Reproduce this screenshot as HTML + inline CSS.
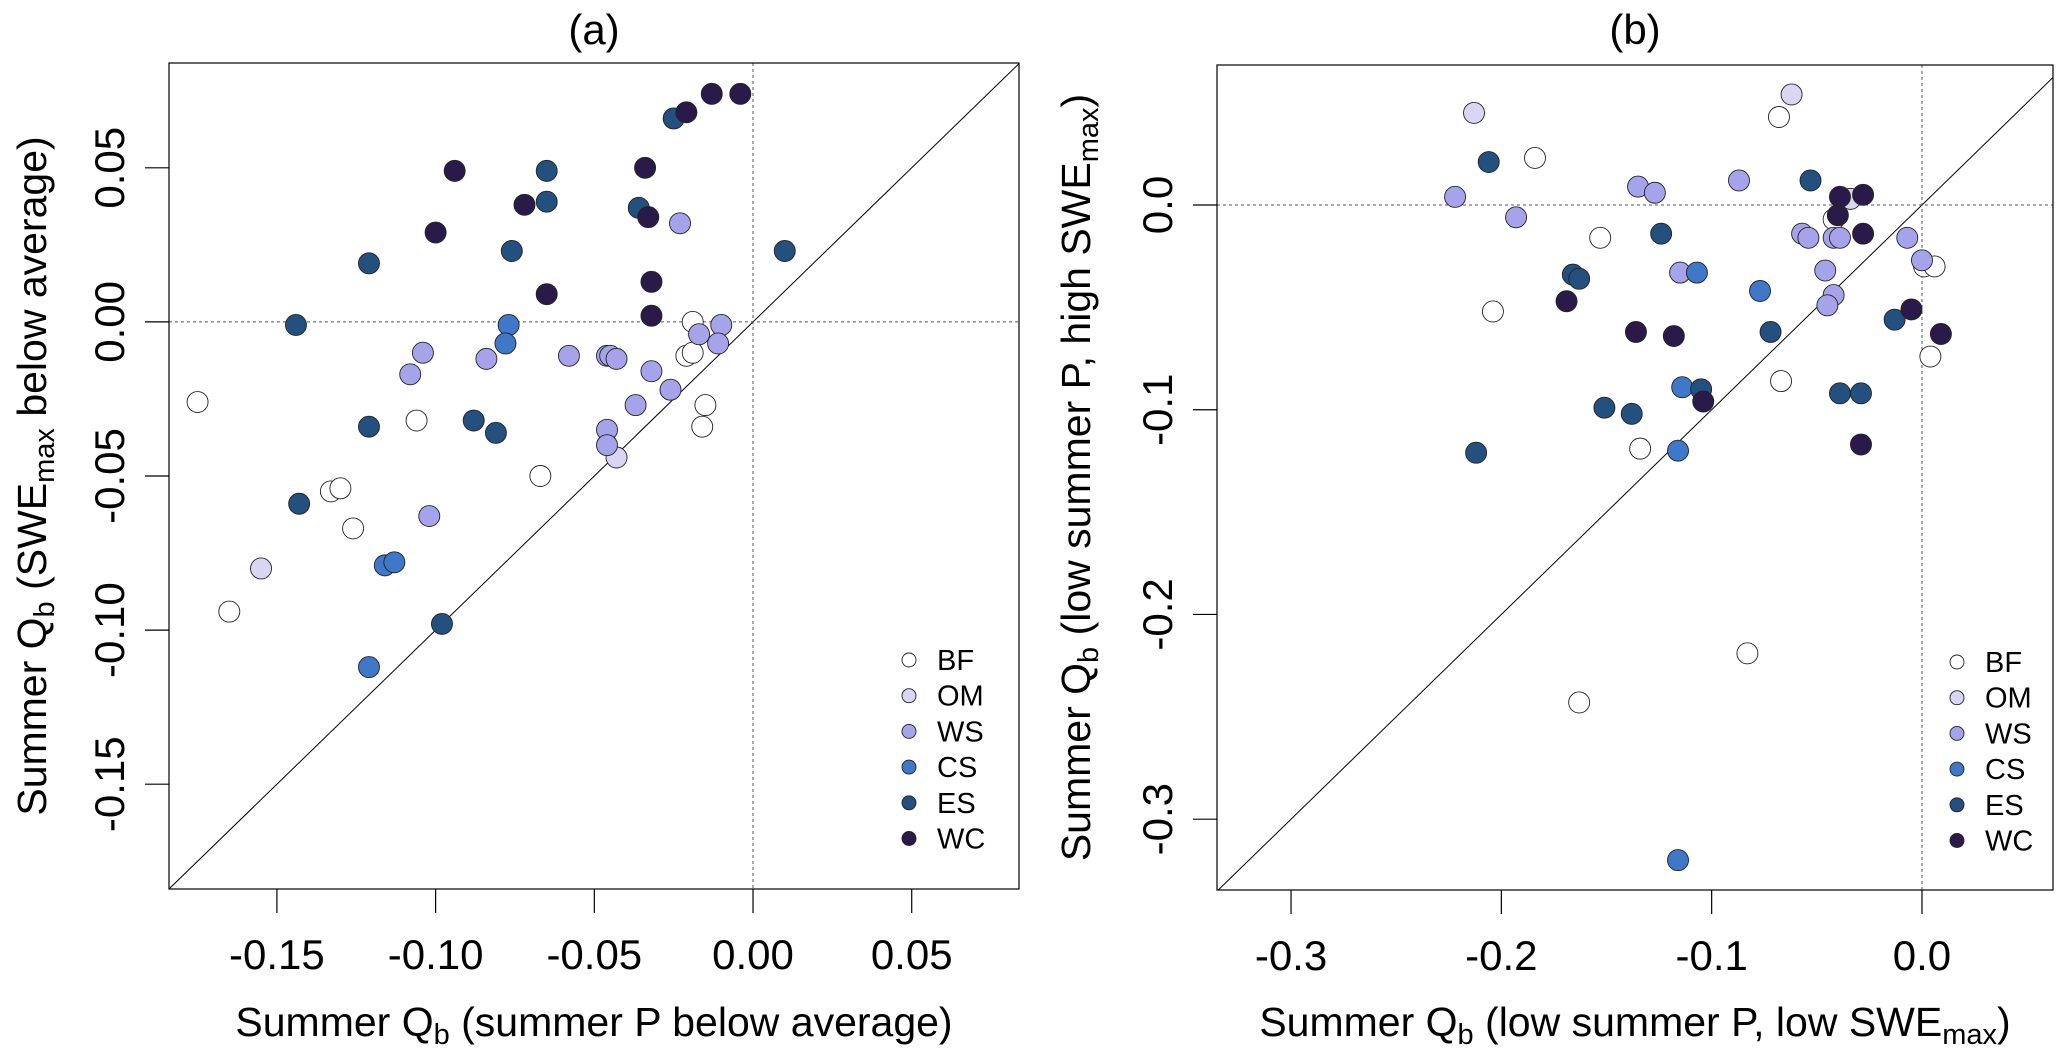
<!DOCTYPE html>
<html><head><meta charset="utf-8"><style>
html,body{margin:0;padding:0;background:#fff}
svg{display:block;font-family:"Liberation Sans",Arial,sans-serif}
</style></head><body>
<svg id="fig" width="2067" height="1064" viewBox="0 0 2067 1064" xmlns="http://www.w3.org/2000/svg"></svg>
<script>
const groups = ["BF","OM","WS","CS","ES","WC"];
const groupColors = ["#ffffff","#d9d6f3","#a7a3ea","#3f77c9","#23507f","#2a1a4a"];
// Panel (a) data: [x, y] per group
const aBF = [[-0.175,-0.026],[-0.165,-0.094],[-0.133,-0.055],[-0.130,-0.054],[-0.126,-0.067],[-0.106,-0.032],[-0.067,-0.050],[-0.019,0.000],[-0.021,-0.011],[-0.019,-0.010],[-0.015,-0.027],[-0.016,-0.034]];
const aOM = [[-0.155,-0.080],[-0.043,-0.044]];
const aWS = [[-0.108,-0.017],[-0.104,-0.010],[-0.084,-0.012],[-0.058,-0.011],[-0.046,-0.011],[-0.045,-0.011],[-0.043,-0.012],[-0.102,-0.063],[-0.046,-0.035],[-0.046,-0.040],[-0.037,-0.027],[-0.032,-0.016],[-0.026,-0.022],[-0.023,0.032],[-0.017,-0.004],[-0.010,-0.001],[-0.011,-0.007]];
const aCS = [[-0.077,-0.001],[-0.078,-0.007],[-0.116,-0.079],[-0.113,-0.078],[-0.121,-0.112]];
const aES = [[-0.144,-0.001],[-0.121,0.019],[-0.121,-0.034],[-0.143,-0.059],[-0.088,-0.032],[-0.081,-0.036],[-0.076,0.023],[-0.065,0.049],[-0.065,0.039],[-0.036,0.037],[-0.025,0.066],[0.010,0.023],[-0.098,-0.098]];
const aWC = [[-0.094,0.049],[-0.100,0.029],[-0.072,0.038],[-0.065,0.009],[-0.034,0.050],[-0.033,0.034],[-0.032,0.013],[-0.032,0.002],[-0.021,0.068],[-0.013,0.074],[-0.004,0.074]];
// Panel (b) data
const bBF = [[-0.184,0.023],[-0.204,-0.052],[-0.153,-0.016],[-0.068,0.043],[-0.042,-0.007],[0.001,-0.030],[0.006,-0.030],[0.004,-0.074],[-0.067,-0.086],[-0.134,-0.119],[-0.083,-0.219],[-0.163,-0.243]];
const bOM = [[-0.213,0.045],[-0.062,0.054],[-0.034,0.003]];
const bWS = [[-0.222,0.004],[-0.193,-0.006],[-0.135,0.009],[-0.127,0.006],[-0.087,0.012],[-0.115,-0.033],[-0.057,-0.014],[-0.054,-0.016],[-0.042,-0.016],[-0.039,-0.016],[-0.046,-0.032],[-0.042,-0.044],[-0.045,-0.049],[-0.007,-0.016],[0.000,-0.027]];
const bCS = [[-0.107,-0.033],[-0.077,-0.042],[-0.114,-0.089],[-0.116,-0.120],[-0.116,-0.320]];
const bES = [[-0.206,0.021],[-0.053,0.012],[-0.124,-0.014],[-0.166,-0.034],[-0.163,-0.036],[-0.072,-0.062],[-0.105,-0.090],[-0.151,-0.099],[-0.138,-0.102],[-0.212,-0.121],[-0.039,-0.092],[-0.029,-0.092],[-0.013,-0.056]];
const bWC = [[-0.039,0.004],[-0.028,0.005],[-0.040,-0.005],[-0.028,-0.014],[-0.169,-0.047],[-0.136,-0.062],[-0.118,-0.064],[-0.104,-0.096],[-0.005,-0.051],[0.009,-0.063],[-0.029,-0.117]];
const aXTicks = [-0.15,-0.10,-0.05,0.00,0.05];
const aYTicks = [-0.15,-0.10,-0.05,0.00,0.05];
const bXTicks = [-0.3,-0.2,-0.1,0.0];
const bYTicks = [-0.3,-0.2,-0.1,0.0];

const NS="http://www.w3.org/2000/svg";
const svg=document.getElementById('fig');
function mk(tag,attrs,parent){const e=document.createElementNS(NS,tag);for(const k in attrs)e.setAttribute(k,attrs[k]);(parent||svg).appendChild(e);return e;}

function panel(cfg){
  const g=mk('g',{});
  
  
  const {L,R,T,B,xmin,xmax,ymin,ymax}=cfg;
  const sx=v=>L+(v-xmin)/(xmax-xmin)*(R-L);
  const sy=v=>B-(v-ymin)/(ymax-ymin)*(B-T);
  const cid='clip-'+cfg.name;
  const cp=mk('clipPath',{id:cid},g);mk('rect',{x:L,y:T,width:R-L,height:B-T},cp);
  const lo=Math.max(xmin,ymin),hi=Math.min(xmax,ymax);
  const d=mk('line',{x1:sx(lo),y1:sy(lo),x2:sx(hi),y2:sy(hi),stroke:'#000','stroke-width':1,'clip-path':`url(#${cid})`},g);
  
  
  const h=mk('line',{x1:L,y1:sy(0),x2:R,y2:sy(0),stroke:'#555','stroke-width':1,'stroke-dasharray':'3,3'},g);
  
  
  const v=mk('line',{x1:sx(0),y1:T,x2:sx(0),y2:B,stroke:'#555','stroke-width':1,'stroke-dasharray':'3,3'},g);
  
  
  cfg.series.forEach((s,gi)=>{
    s.forEach(p=>{
      const c=mk('circle',{cx:sx(p[0]),cy:sy(p[1]),r:10.5,fill:groupColors[gi],stroke:'#222','stroke-width':0.9},g);
      
      
    });
  });
  const box=mk('rect',{x:L,y:T,width:R-L,height:B-T,fill:'none',stroke:'#000','stroke-width':1.2},g);
  
  
  cfg.xt.forEach(t=>{
    mk('line',{x1:sx(t),y1:B,x2:sx(t),y2:B+24,stroke:'#000','stroke-width':1.2},g);
    const tx=mk('text',{x:sx(t),y:B+80,'font-size':42,'text-anchor':'middle'},g);
    tx.textContent=t.toFixed(cfg.dec);
    
    
  });
  cfg.yt.forEach(t=>{
    mk('line',{x1:L,y1:sy(t),x2:L-24,y2:sy(t),stroke:'#000','stroke-width':1.2},g);
    const tx=mk('text',{x:0,y:0,'font-size':42,'text-anchor':'middle',transform:`translate(${L-45},${sy(t)}) rotate(-90)`},g);
    tx.textContent=t.toFixed(cfg.dec);
    
    
  });
  const tt=mk('text',{x:(L+R)/2,y:44,'font-size':42,'text-anchor':'middle'},g);
  tt.textContent=cfg.title;
  
  
  const xt=mk('text',{x:(L+R)/2,y:1036,'font-size':41,'text-anchor':'middle'},g);
  xt.innerHTML=cfg.xlab;
  
  
  const yt=mk('text',{x:0,y:0,'font-size':41,'text-anchor':'middle',transform:`translate(${cfg.ylabX},${(T+B)/2}) rotate(-90)`},g);
  yt.innerHTML=cfg.ylab;
  
  
  groups.forEach((n,i)=>{
    const ly=cfg.legY+i*35.7;
    const c=mk('circle',{cx:cfg.legX,cy:ly,r:7,fill:groupColors[i],stroke:'#222','stroke-width':0.9},g);
    
    
    const t=mk('text',{x:cfg.legX+28,y:ly+10,'font-size':29},g);
    t.textContent=n;
    
    
  });
}
const S='<tspan dy="8" font-size="29">', E='</tspan><tspan dy="-8">';
panel({name:'panel-a',L:169,R:1019,T:63,B:889,xmin:-0.184,xmax:0.0838,ymin:-0.184,ymax:0.0840,
  series:[aBF,aOM,aWS,aCS,aES,aWC],xt:aXTicks,yt:aYTicks,dec:2,title:'(a)',
  xlab:'Summer Q'+S+'b'+E+' (summer P below average)</tspan>',
  ylab:'Summer Q'+S+'b'+E+' (SWE</tspan>'+S+'max'+E+' below average)</tspan>',ylabX:46,legX:909,legY:660});
panel({name:'panel-b',L:1217,R:2053,T:65,B:890,xmin:-0.3352,xmax:0.0623,ymin:-0.3346,ymax:0.0684,
  series:[bBF,bOM,bWS,bCS,bES,bWC],xt:bXTicks,yt:bYTicks,dec:1,title:'(b)',
  xlab:'Summer Q'+S+'b'+E+' (low summer P, low SWE</tspan>'+S+'max'+E+')</tspan>',
  ylab:'Summer Q'+S+'b'+E+' (low summer P, high SWE</tspan>'+S+'max'+E+')</tspan>',ylabX:1090,legX:1957,legY:662});
</script>
</body></html>
